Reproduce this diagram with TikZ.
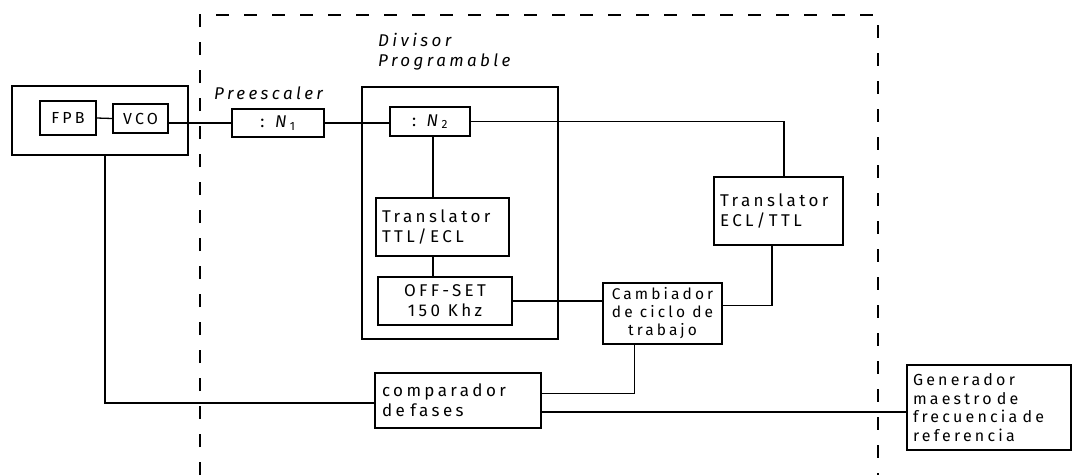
\documentclass[tikz,border=0pt]{standalone}
\usepackage{fontspec}
\setmainfont[LetterSpace=20]{Fira Sans}
\begin{document}
\begin{tikzpicture}[x=1pt,y=-1pt,
  every node/.style={font=\fontsize{17}{20}\selectfont},
  blk/.style={draw,line width=1.5pt,inner sep=0pt,rectangle},
  wire/.style={line width=1.3pt},
  frame/.style={line width=1.5pt,dashed,dash pattern=on 13pt off 15pt},
  lbl/.style={inner sep=0pt,anchor=west,align=left}]
\useasboundingbox (0,0) rectangle (1073,475);
% dashed boundary
\draw[frame] (200,475) -- (200,15) -- (878,15) -- (878,475);
% blocks
\node[blk,minimum width=176,minimum height=69] (outer) at (100,120.5) {};
\node[blk,minimum width=56,minimum height=34,font=\fontsize{16}{18}\selectfont] (fpb) at (68,118) {FPB};
\node[blk,minimum width=55,minimum height=29,font=\fontsize{16}{18}\selectfont] (vco) at (140.5,118.5) {VCO};
\node[blk,minimum width=92,minimum height=28] (n1) at (278,123) {: \textit{N}\textsubscript{1}};
\node[blk,minimum width=196,minimum height=252] (div) at (460,213) {};
\node[blk,minimum width=80,minimum height=29] (n2) at (430,121.5) {: \textit{N}\textsubscript{2}};
\node[blk,minimum width=133,minimum height=58,align=left,text width=121] (ttl) at (442.5,227) {Translator\\TTL/ECL};
\node[blk,minimum width=134,minimum height=48,align=center] (off) at (445,301) {OFF-SET\\150 Khz};
\node[blk,minimum width=119,minimum height=61,align=center,font=\fontsize{15.5}{18}\selectfont] (camb) at (662.5,313.5) {Cambiador\\de ciclo de\\trabajo};
\node[blk,minimum width=129,minimum height=68,align=left,text width=117] (ecl) at (778.5,211) {Translator\\ECL/TTL};
\node[blk,minimum width=166,minimum height=55,align=left,text width=152] (comp) at (458,400.5) {comparador\\de fases};
\node[blk,minimum width=164,minimum height=85,align=left,text width=152,font=\fontsize{16}{18.5}\selectfont] (gen) at (989,407.5) {Generador\\maestro de\\frecuencia de\\referencia};
% labels
\node[lbl] (pre) at (214,93) {\textit{Preescaler}};
\node[lbl] (divl) at (378,52) {\textit{Divisor}\\\textit{Programable}};
% connectors
\draw[wire] (fpb.east) -- (vco.west);
\draw[wire] (n1.west -| vco.east) -- (n1.west);
\draw[wire] (n1.east) -- (n1.east -| n2.west);
\draw[wire] (n2.east) -| ([xshift=5.5pt]ecl.north);
\draw[wire] ([xshift=3pt]n2.south) -- ([xshift=3pt]n2.south |- ttl.north);
\draw[wire] ([xshift=3pt]n2.south |- ttl.south) -- ([xshift=3pt]n2.south |- off.north);
\draw[wire] (off.east) -- (off.east -| camb.west);
\draw[wire] ([yshift=8pt]camb.east) -| ([xshift=-6.5pt]ecl.south);
\draw[wire] ([xshift=-28pt]camb.south) |- ([yshift=7pt]comp.east);
\draw[wire] ([xshift=5pt]outer.south) |- ([yshift=-2.5pt]comp.west);
\draw[wire] ([yshift=-11.5pt]comp.east) -- ([yshift=-11.5pt]comp.east -| gen.west);
\end{tikzpicture}
\end{document}
